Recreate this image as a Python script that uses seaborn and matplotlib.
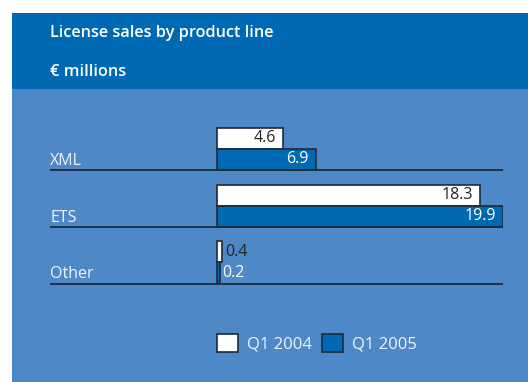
import matplotlib
matplotlib.use("Agg")
import matplotlib.pyplot as plt
import matplotlib.patches as mpatches
import seaborn as sns
import pandas as pd

categories = ["XML", "ETS", "Other"]
q1_2004 = [4.6, 18.3, 0.4]
q1_2005 = [6.9, 19.9, 0.2]
series_names = ["Q1 2004", "Q1 2005"]

title = "License sales by product line"
subtitle = "€ millions"

HEADER = "#0069b4"
BODY = "#4f88c6"
WHITE = "#ffffff"
EDGE = "#1e2a38"
TXT_LIGHT = "#eef3fa"
TXT_DARK = "#222222"

df = pd.DataFrame({
    "category": categories * 2,
    "value": q1_2004 + q1_2005,
    "series": [series_names[0]] * 3 + [series_names[1]] * 3,
})

sns.set_theme(style="white")
plt.rcParams["font.family"] = ["Open Sans", "DejaVu Sans"]

W, H = 528, 382
fig = plt.figure(figsize=(W / 100, H / 100), dpi=100)
fig.patch.set_facecolor("white")

def px_rect(x0, y0, x1, y1, color):
    fig.patches.append(mpatches.Rectangle((x0 / W, 1 - y1 / H), (x1 - x0) / W, (y1 - y0) / H,
                                          transform=fig.transFigure, facecolor=color,
                                          edgecolor="none", zorder=-5))

px_rect(12, 13, W, 89, HEADER)
px_rect(12, 89, W, H, BODY)

fig.text(50 / W, 1 - 33 / H, title, color="white", fontsize=11.7, fontweight="semibold",
         va="center", ha="left")
fig.text(50 / W, 1 - 72 / H, subtitle, color="white", fontsize=11.7, fontweight="semibold",
         va="center", ha="left")

# axes in pixel coords
ax_l, ax_r, ax_t, ax_b = 50, 503.3, 100, 300
ax = fig.add_axes([ax_l / W, 1 - ax_b / H, (ax_r - ax_l) / W, (ax_b - ax_t) / H])
ax.set_facecolor("none")
ax.set_zorder(2)

sns.barplot(data=df, y="category", x="value", hue="series", orient="h",
            palette={series_names[0]: WHITE, series_names[1]: HEADER},
            hue_order=series_names, order=categories, width=0.74,
            edgecolor=EDGE, linewidth=1.2, legend=False, ax=ax, saturation=1)

pxu = 14.37
x0px = 216.7
ax.set_xlim(-(x0px - ax_l) / pxu, (ax_r - x0px) / pxu)
row = 56.7
c0 = 148.9
ax.set_ylim(-(c0 - ax_t) / row + (ax_b - ax_t) / row, -(c0 - ax_t) / row)

for s in ax.spines.values():
    s.set_visible(False)
ax.set_xticks([])
ax.set_yticks([])
ax.set_xlabel("")
ax.set_ylabel("")

xl = ax.get_xlim()
for i, cat in enumerate(categories):
    ax.hlines(i + 0.376, xl[0], xl[1], color=EDGE, lw=1.3, zorder=1)
    ax.text(xl[0], i + 0.285, cat, color=TXT_LIGHT, fontsize=11.5, ha="left", va="baseline")

# value labels
for cont, name in zip(ax.containers, series_names):
    for bar in cont:
        w = bar.get_width()
        yc = bar.get_y() + bar.get_height() / 2
        inside_col = TXT_DARK if name == series_names[0] else "white"
        if w > 2:
            ax.text(w - 7 / pxu, yc, f"{w:.1f}", color=inside_col, fontsize=11.5,
                    ha="right", va="center")
        else:
            ax.text(w + 3 / pxu, yc, f"{w:.1f}", color=inside_col if name == series_names[1] else TXT_DARK,
                    fontsize=11.5, ha="left", va="center")

handles = [mpatches.Patch(facecolor=WHITE, edgecolor=EDGE, linewidth=1.2),
           mpatches.Patch(facecolor=HEADER, edgecolor=EDGE, linewidth=1.2)]
leg = fig.legend(handles, series_names, loc="center left",
                 bbox_to_anchor=(216.7 / W, 1 - 343 / H), frameon=False, ncol=2,
                 fontsize=12, handlelength=1.3, handleheight=1.3, handletextpad=0.5,
                 columnspacing=0.6, borderpad=0, borderaxespad=0)
for t in leg.get_texts():
    t.set_color(TXT_LIGHT)

fig.savefig("out.png", dpi=100)
